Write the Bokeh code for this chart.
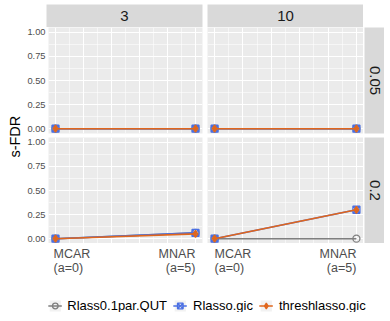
from bokeh.plotting import figure
from bokeh.models import Range1d, FixedTicker, Label, Legend, LegendItem, ColumnDataSource, Spacer
from bokeh.layouts import row, column
from bokeh.embed import file_html
from bokeh.resources import INLINE

# ---------------- data ----------------
methods = ["Rlass0.1par.QUT", "Rlasso.gic", "threshlasso.gic"]
colors = ["#7F7F7F", "#4A6FE3", "#E0661C"]
markers = ["circle", "square_x", "diamond_cross"]

a_vals = [0, 5]
x_tick_labels = ["MCAR\n(a=0)", "MNAR\n(a=5)"]
col_facets = ["3", "10"]
row_facets = ["0.05", "0.2"]
y_ticks = [0, 0.25, 0.5, 0.75, 1.0]
y_tick_labels = ["0.00", "0.25", "0.50", "0.75", "1.00"]

# s-FDR per panel (row facet | column facet), values at [MCAR, MNAR]
qut_vals = {"0.05|3": [0.0, 0.0], "0.05|10": [0.0, 0.0], "0.2|3": [0.0, 0.06], "0.2|10": [0.0, 0.0]}
gic_vals = {"0.05|3": [0.0, 0.0], "0.05|10": [0.0, 0.0], "0.2|3": [0.0, 0.06], "0.2|10": [0.0, 0.30]}
thr_vals = {"0.05|3": [0.0, 0.0], "0.05|10": [0.0, 0.0], "0.2|3": [0.0, 0.05], "0.2|10": [0.0, 0.30]}
series = [qut_vals, gic_vals, thr_vals]

FONT = "Liberation Sans"
PANEL_BG = "#EBEBEB"
STRIP_BG = "#D9D9D9"
FRAME_W = 156
FRAME_H = 106
TEXT_GREY = "#4D4D4D"
YT_W = 24

# column geometry: (left border, right border)
COL_B = [(22, 2), (3, 0)]
x_ranges = [Range1d(-0.25, 5.25), Range1d(-0.25, 5.25)]


def bare(width, height, bl=0, br=0, bt=0, bb=0, bg=STRIP_BG, x_range=None):
    p = figure(width=width, height=height,
               x_range=x_range if x_range is not None else Range1d(0, 1),
               y_range=Range1d(0, 1),
               output_backend="svg", toolbar_location=None,
               min_border_left=bl, min_border_right=br, min_border_top=bt, min_border_bottom=bb)
    p.axis.visible = False
    p.grid.visible = False
    p.background_fill_color = bg
    p.border_fill_color = "white"
    p.outline_line_color = None
    return p


def panel(ri, ci):
    left = ci == 0
    bl, br = COL_B[ci]
    bb = 4 if ri == 0 else 0
    p = figure(width=bl + FRAME_W + br, height=FRAME_H + bb,
               x_range=x_ranges[ci], y_range=Range1d(-0.05, 1.05),
               output_backend="svg", toolbar_location=None,
               min_border_left=bl, min_border_right=br, min_border_top=0, min_border_bottom=bb)
    p.background_fill_color = PANEL_BG
    p.border_fill_color = "white"
    p.outline_line_color = None

    xt = FixedTicker(ticks=[0, 1, 2, 3, 4, 5], minor_ticks=[0.5, 1.5, 2.5, 3.5, 4.5])
    yt = FixedTicker(ticks=y_ticks, minor_ticks=[0.125, 0.375, 0.625, 0.875])
    p.xaxis.ticker = xt
    p.yaxis.ticker = yt
    p.xgrid.ticker = xt
    p.ygrid.ticker = yt
    p.xaxis.visible = False
    for g in (p.xgrid, p.ygrid):
        g.grid_line_color = "white"
        g.grid_line_width = 1.1
        g.minor_grid_line_color = "white"
        g.minor_grid_line_width = 0.55

    if left:
        ax = p.yaxis[0]
        ax.major_label_overrides = {t: l for t, l in zip(y_ticks, y_tick_labels)}
        ax.major_tick_line_color = None
        ax.minor_tick_line_color = None
        ax.major_tick_out = 0
        ax.major_tick_in = 0
        ax.minor_tick_out = 0
        ax.axis_line_color = None
        ax.major_label_standoff = 3
        ax.major_label_text_font = FONT
        ax.major_label_text_font_size = "9.3px"
        ax.major_label_text_color = TEXT_GREY
    else:
        p.yaxis.visible = False

    key = f"{row_facets[ri]}|{col_facets[ci]}"
    for m, c, mk, vals in zip(methods, colors, markers, series):
        src = ColumnDataSource(dict(a=a_vals, v=vals[key]))
        p.line("a", "v", source=src, line_color=c, line_width=1.6)
        p.scatter("a", "v", source=src, marker=mk, size=7, line_color=c,
                  fill_color=None, line_width=1.3)
    return p


def xlabels(ci):
    bl, br = COL_B[ci]
    p = bare(bl + FRAME_W + br, 35, bl=bl, br=br, bg="white", x_range=x_ranges[ci])
    for a, lab, align in zip(a_vals, x_tick_labels, ["left", "right"]):
        p.add_layout(Label(x=a, y=1, text=lab, text_align=align, text_baseline="top",
                           y_offset=-3, text_font=FONT, text_font_size="12.5px",
                           text_color=TEXT_GREY, text_line_height=1.07))
    return p


# ---- top strips ----
top_strips = [Spacer(width=YT_W, height=27)]
for ci, lab in enumerate(col_facets):
    bl, br = COL_B[ci]
    s = bare(bl + FRAME_W + br, 27, bl=bl, br=br, bt=4)
    s.add_layout(Label(x=0.5, y=0.5, text=lab, text_align="center", text_baseline="middle",
                       text_font=FONT, text_font_size="15px", text_color="#1A1A1A"))
    top_strips.append(s)

# ---- panel rows with right strips ----
panel_rows = []
for ri, rlab in enumerate(row_facets):
    bb = 4 if ri == 0 else 0
    s = bare(21, FRAME_H + bb, bl=1, bb=bb)
    s.add_layout(Label(x=0.5, y=0.5, text=rlab, text_align="center", text_baseline="middle",
                       angle=-1.5707963, text_font=FONT, text_font_size="15px",
                       text_color="#1A1A1A"))
    panel_rows.append(row(panel(ri, 0), panel(ri, 1), s, spacing=0))
panel_rows.append(row(xlabels(0), xlabels(1), spacing=0))

# ---- y axis title ----
yfig = bare(YT_W, 110 + 106 + 35, bg="white")
yfig.add_layout(Label(x=0.6, y=0.565, text="s-FDR", text_align="center", text_baseline="middle",
                      angle=1.5707963, text_font=FONT, text_font_size="14.5px",
                      text_color="black"))

# ---- legend ----
lg = bare(390, 43, bl=23, bt=20, bb=9, bg="white")
items = []
nan = float("nan")
for m, c, mk in zip(methods, colors, markers):
    dummy = ColumnDataSource(dict(x=[nan], y=[nan], l=[nan], r=[nan], b=[nan], t=[nan]))
    bgr = lg.quad(left="l", right="r", bottom="b", top="t", source=dummy,
                  fill_color="#F2F2F2", line_color=None)
    lr = lg.line("x", "y", source=dummy, line_color=c, line_width=1.6)
    sr = lg.scatter("x", "y", source=dummy, marker=mk, size=7, line_color=c,
                    fill_color=None, line_width=1.3)
    items.append(LegendItem(label=m, renderers=[bgr, lr, sr]))
legend = Legend(items=items, orientation="horizontal", location="center",
                glyph_width=14, glyph_height=14, label_standoff=6, spacing=6,
                padding=0, margin=0, border_line_color=None, background_fill_alpha=0,
                label_text_font=FONT, label_text_font_size="13px", label_text_color="black",
                label_height=14)
lg.add_layout(legend, "center")

layout = column(
    row(*top_strips, spacing=0),
    row(yfig, column(*panel_rows, spacing=0), spacing=0),
    lg,
    spacing=0,
)

with open("out.html", "w") as f:
    f.write(file_html(layout, INLINE))
